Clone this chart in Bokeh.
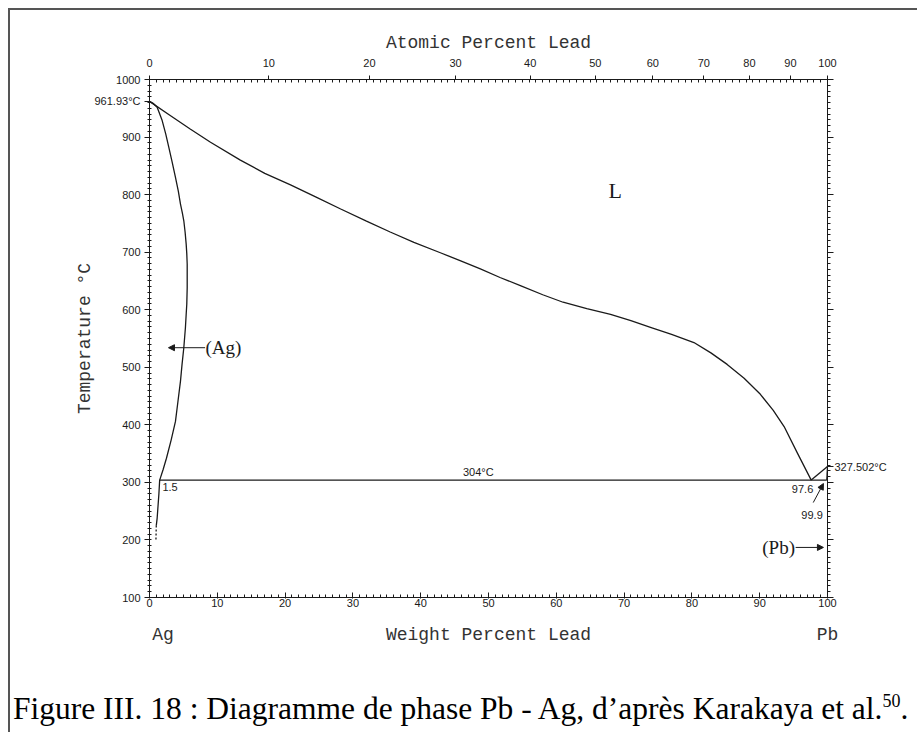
from bokeh.plotting import figure
from bokeh.layouts import column
from bokeh.models import (Range1d, LinearAxis, FixedTicker, Label, Arrow,
                          NormalHead, CustomJSTickFormatter, Div)
from bokeh.embed import file_html
from bokeh.resources import INLINE

# ---------------- data ----------------
# Liquidus (Ag-rich side down to the eutectic)
liq_wt = [0, 3, 6, 9, 13.4, 17, 20.8, 24.5, 28.2, 32, 35.5, 39, 42.9, 45.9,
          48.8, 51.7, 54.7, 58, 61, 64.5, 68, 71, 74, 77, 80.3, 82.8, 85.2,
          87.7, 90.1, 92, 93.6, 95.6, 97.6]
liq_T = [961.93, 938, 914, 891, 860, 837, 817, 796, 775, 754, 735, 717, 699,
         685, 671, 656, 642, 626, 613, 602, 592, 581, 569, 557, 543, 525, 505,
         481, 453, 425, 397, 350, 304]
# (Ag) solidus / solvus
ag_wt = [0, 0.6, 1.13, 1.87, 2.4, 2.85, 3.35, 3.83, 4.25, 4.57, 4.85, 5.06,
         5.25, 5.41, 5.5, 5.56, 5.56, 5.5, 5.4, 5.3, 5.06, 4.8, 4.57, 4.2,
         3.83, 3.2, 2.5, 2.0, 1.5, 1.38, 1.13, 1.0]
ag_T = [961.93, 958, 951.8, 928.6, 905, 882, 856, 830, 806, 783.6, 768, 754.5,
        735, 714, 697, 679, 638.4, 610, 590, 569, 534, 505, 476, 441,
        406, 374, 342, 322, 304, 279, 238, 225]
ag_dash_wt = [1.0, 0.95]
ag_dash_T = [225, 200]
# Eutectic isotherm
eut_wt = [1.5, 99.9]
eut_T = [304, 304]
# Pb side
pb_liq_wt = [97.6, 100.0]
pb_liq_T = [304, 327.502]
pb_sol_wt = [100.0, 99.9]
pb_sol_T = [327.502, 304]

# axes
wt_ticks = list(range(0, 101, 10))
wt_minor = list(range(0, 101, 1))
T_ticks = list(range(100, 1001, 100))
T_minor = list(range(100, 1001, 10))
T_ag_melt = 961.93
T_pb_melt = 327.502
at_ticks = [0, 10, 20, 30, 40, 50, 60, 70, 80, 90, 100]
M_PB = 207.2
M_AG = 107.868
at_pos = [a * M_PB / (a * M_PB + (100 - a) * M_AG) * 100 for a in at_ticks]
end_ticks = [2, 50, 100]
end_labels = ["Ag", "Weight Percent Lead", "Pb"]

INK = "#1a1a1a"
MONO = "Liberation Mono"
SANS = "Liberation Sans"
SERIF = "Liberation Serif"

p = figure(width=905, height=676, x_range=Range1d(0, 100), y_range=Range1d(100, 1000),
           output_backend="svg", toolbar_location=None,
           x_axis_location=None, y_axis_location=None,
           min_border_left=139, min_border_top=69, min_border_right=88,
           min_border_bottom=89)
p.outline_line_color = None
p.background_fill_color = "white"
p.border_fill_color = "white"
p.xgrid.grid_line_color = None
p.ygrid.grid_line_color = None


def style_axis(ax):
    ax.axis_line_color = INK
    ax.major_tick_line_color = INK
    ax.minor_tick_line_color = INK
    ax.major_label_text_font = SANS
    ax.major_label_text_font_size = "11px"
    ax.major_label_text_color = INK
    ax.axis_label_text_font = MONO
    ax.axis_label_text_font_size = "18px"
    ax.axis_label_text_font_style = "normal"
    ax.axis_label_text_color = "#333333"


left = LinearAxis(ticker=FixedTicker(ticks=T_ticks + [T_ag_melt], minor_ticks=T_minor),
                  formatter=CustomJSTickFormatter(
                      args=dict(tm=T_ag_melt),
                      code="return Math.abs(tick - tm) < 0.01 ? tm.toFixed(2) + '°C' : tick.toFixed(0);"),
                  axis_label="Temperature °C")
style_axis(left)
left.major_tick_out = 5
left.major_tick_in = 0
left.minor_tick_out = 2
left.minor_tick_in = 2
left.major_label_standoff = 4
left.axis_label_standoff = -3
p.add_layout(left, "left")

right = LinearAxis(ticker=FixedTicker(ticks=T_ticks + [T_pb_melt], minor_ticks=T_minor),
                   formatter=CustomJSTickFormatter(
                       args=dict(tm=T_pb_melt),
                       code="return Math.abs(tick - tm) < 0.01 ? tm.toFixed(3) + '°C' : '';"))
style_axis(right)
right.major_tick_out = 6
right.major_tick_in = 0
right.minor_tick_out = 3
right.minor_tick_in = 0
right.major_label_standoff = 1
p.add_layout(right, "right")

bottom = LinearAxis(ticker=FixedTicker(ticks=wt_ticks, minor_ticks=wt_minor))
style_axis(bottom)
bottom.major_tick_in = 5
bottom.major_tick_out = 1
bottom.minor_tick_in = 3
bottom.minor_tick_out = 0
bottom.major_label_standoff = 0
p.add_layout(bottom, "below")

bottom2 = LinearAxis(ticker=FixedTicker(ticks=end_ticks, minor_ticks=[]),
                     formatter=CustomJSTickFormatter(
                         args=dict(t=end_ticks, l=end_labels),
                         code="for (let i = 0; i < t.length; i++) { if (Math.abs(tick - t[i]) < 0.01) return l[i]; } return '';"))
style_axis(bottom2)
bottom2.axis_line_color = None
bottom2.major_tick_line_color = None
bottom2.minor_tick_line_color = None
bottom2.major_label_text_font = MONO
bottom2.major_label_text_font_size = "18px"
bottom2.major_label_text_color = "#333333"
bottom2.major_label_standoff = 9
p.add_layout(bottom2, "below")

top = LinearAxis(ticker=FixedTicker(ticks=at_pos, minor_ticks=wt_minor),
                 formatter=CustomJSTickFormatter(
                     args=dict(mpb=M_PB, mag=M_AG),
                     code="const a = tick*mag/(tick*mag + (100-tick)*mpb)*100; return Math.round(a).toString();"),
                 axis_label="Atomic Percent Lead")
style_axis(top)
top.major_tick_out = 4
top.major_tick_in = 0
top.minor_tick_in = 3
top.minor_tick_out = 0
top.major_label_standoff = 9
top.axis_label_standoff = 3
p.add_layout(top, "above")

LW = 1.3
p.line(liq_wt, liq_T, line_color=INK, line_width=LW)
p.line(ag_wt, ag_T, line_color=INK, line_width=LW)
p.line(ag_dash_wt, ag_dash_T, line_color=INK, line_width=LW, line_dash="2 2")
p.line(eut_wt, eut_T, line_color=INK, line_width=LW)
p.line(pb_liq_wt, pb_liq_T, line_color=INK, line_width=LW)
p.line(pb_sol_wt, pb_sol_T, line_color=INK, line_width=LW)


def lab(text, x, y, xo=0, yo=0, font=SANS, size="11px", align="left",
        baseline="middle", color=INK):
    p.add_layout(Label(x=x, y=y, x_offset=xo, y_offset=yo, text=text,
                       text_font=font, text_font_size=size, text_align=align,
                       text_baseline=baseline, text_color=color))


lab("304°C", 48.5, 304, yo=2, align="center", baseline="bottom")
lab("1.5", 1.9, 304, yo=-3, baseline="top")
lab("97.6", 97.9, 288.6, align="right")
lab("99.9", 99.3, 244, align="right")
lab("(Ag)", 8.26, 534, font=SERIF, size="19px")
lab("(Pb)", 95.2, 187, font=SERIF, size="19px", align="right")
lab("L", 68.7, 807, font=SERIF, size="22px", align="center")

head = dict(size=6, fill_color=INK, line_color=INK)
p.add_layout(Arrow(end=NormalHead(**head), x_start=8.2, y_start=534, x_end=2.8,
                   y_end=534, line_color=INK, line_width=1))
p.add_layout(Arrow(end=NormalHead(**head), x_start=95.3, y_start=187, x_end=99.4,
                   y_end=187, line_color=INK, line_width=1))
p.add_layout(Arrow(end=NormalHead(**head), x_start=97.9, y_start=265, x_end=99.4,
                   y_end=298, line_color=INK, line_width=1))

caption = Div(
    text="Figure III. 18 : Diagramme de phase Pb - Ag, d\u2019après Karakaya et al."
         "<span style='font-size:18px; vertical-align:12px; line-height:0'>50</span>.",
    width=905, height=36,
    styles={"font-family": SERIF, "font-size": "31.5px", "line-height": "36px",
            "color": "black", "white-space": "nowrap", "margin-left": "3px"})

page = column(p, caption,
              styles={"margin-top": "8px", "margin-left": "8px",
                      "border-top": "2px solid #555", "border-left": "2px solid #555"})

open("out.html", "w").write(file_html(page, INLINE))
